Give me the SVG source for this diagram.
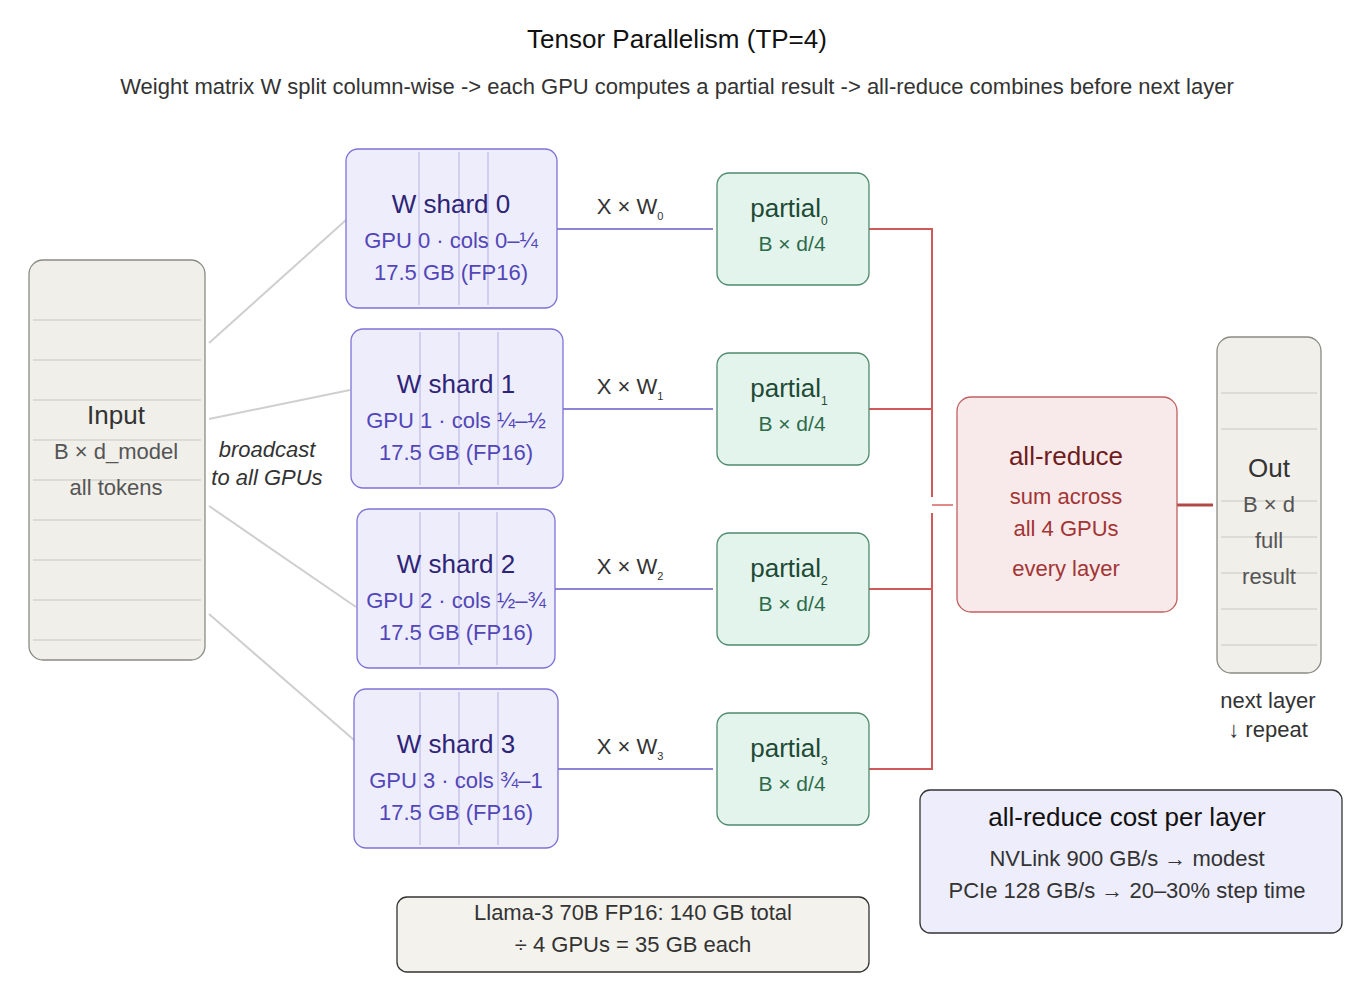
<svg xmlns="http://www.w3.org/2000/svg" width="1354" height="992" viewBox="0 0 1354 992">
<style>
text{font-family:"Liberation Sans",Arial,sans-serif;text-anchor:middle}
.shard{fill:#ededfb;stroke:#7f72d6;stroke-width:1.3}
.sv{stroke:#c9c3ec;stroke-width:1.5}
.t1{font-size:26px;fill:#2d2477}
.t2{font-size:22px;fill:#5246b8}
.part{fill:#e3f4ec;stroke:#4f8a6e;stroke-width:1.3}
.pt1{font-size:26px;fill:#1f4a35}
.pt2{font-size:21px;fill:#2d6b4b}
.mem{fill:#f0efea;stroke:#8b8b85;stroke-width:1.3}
.ml{stroke:#d6d5cf;stroke-width:1.5}
.gray{stroke:#cfcfcf;stroke-width:2;fill:none}
.blue{stroke:#8c84d4;stroke-width:2;fill:none}
.red{stroke:#d05a5a;stroke-width:2;fill:none}
.lbl{font-size:22px;fill:#333}
</style>
<text x="677" y="48" font-size="26" fill="#111">Tensor Parallelism (TP=4)</text>
<text x="677" y="94" font-size="22" fill="#333">Weight matrix W split column-wise -&gt; each GPU computes a partial result -&gt; all-reduce combines before next layer</text>
<g id="connectors">
<line class="gray" x1="209" y1="343" x2="346" y2="220"/>
<line class="gray" x1="209" y1="419" x2="350" y2="390"/>
<line class="gray" x1="209" y1="506" x2="356" y2="607"/>
<line class="gray" x1="209" y1="614" x2="354" y2="740"/>
<text x="267" y="457" class="lbl" font-style="italic">broadcast</text>
<text x="267" y="485" class="lbl" font-style="italic">to all GPUs</text>
<line class="blue" x1="557" y1="229" x2="713" y2="229"/>
<line class="blue" x1="563" y1="409" x2="713" y2="409"/>
<line class="blue" x1="555" y1="589" x2="713" y2="589"/>
<line class="blue" x1="558" y1="769" x2="713" y2="769"/>
<text x="630" y="214" class="lbl">X × W<tspan font-size="11" dy="6">0</tspan></text>
<text x="630" y="394" class="lbl">X × W<tspan font-size="11" dy="6">1</tspan></text>
<text x="630" y="574" class="lbl">X × W<tspan font-size="11" dy="6">2</tspan></text>
<text x="630" y="754" class="lbl">X × W<tspan font-size="11" dy="6">3</tspan></text>
<path class="red" d="M869 229H932V497M932 513V769H869M869 409H932M869 589H932"/>
<line x1="932" y1="505" x2="953" y2="505" stroke="#e08a8a" stroke-width="2"/>
<line x1="1177" y1="505" x2="1213" y2="505" stroke="#b04848" stroke-width="3"/>
</g>
<g id="input">
<rect class="mem" x="29" y="260" width="176" height="400" rx="14"/>
<path class="ml" d="M33 320H201M33 360H201M33 400H201M33 440H201M33 480H201M33 520H201M33 560H201M33 600H201M33 640H201"/>
<text x="116" y="424" font-size="26" fill="#333">Input</text>
<text x="116" y="459" font-size="22" fill="#555">B × d_model</text>
<text x="116" y="495" font-size="22" fill="#555">all tokens</text>
</g>
<g id="shard0">
<rect class="shard" x="346" y="149" width="211" height="159" rx="12"/>
<path class="sv" d="M419 152V305M459 152V305M488 152V305"/>
<text x="451" y="213" class="t1">W shard 0</text>
<text x="451" y="248" class="t2">GPU 0 · cols 0–¼</text>
<text x="451" y="280" class="t2">17.5 GB (FP16)</text>
</g>
<g id="shard1">
<rect class="shard" x="351" y="329" width="212" height="159" rx="12"/>
<path class="sv" d="M420 332V485M459 332V485M498 332V485"/>
<text x="456" y="393" class="t1">W shard 1</text>
<text x="456" y="428" class="t2">GPU 1 · cols ¼–½</text>
<text x="456" y="460" class="t2">17.5 GB (FP16)</text>
</g>
<g id="shard2">
<rect class="shard" x="357" y="509" width="198" height="159" rx="12"/>
<path class="sv" d="M420 512V665M459 512V665M497 512V665"/>
<text x="456" y="573" class="t1">W shard 2</text>
<text x="456" y="608" class="t2">GPU 2 · cols ½–¾</text>
<text x="456" y="640" class="t2">17.5 GB (FP16)</text>
</g>
<g id="shard3">
<rect class="shard" x="354" y="689" width="204" height="159" rx="12"/>
<path class="sv" d="M420 692V845M459 692V845M498 692V845"/>
<text x="456" y="753" class="t1">W shard 3</text>
<text x="456" y="788" class="t2">GPU 3 · cols ¾–1</text>
<text x="456" y="820" class="t2">17.5 GB (FP16)</text>
</g>
<g id="partial0">
<rect class="part" x="717" y="173" width="152" height="112" rx="12"/>
<text x="789" y="217" class="pt1">partial<tspan font-size="12" dy="8">0</tspan></text>
<text x="792" y="251" class="pt2">B × d/4</text>
</g>
<g id="partial1">
<rect class="part" x="717" y="353" width="152" height="112" rx="12"/>
<text x="789" y="397" class="pt1">partial<tspan font-size="12" dy="8">1</tspan></text>
<text x="792" y="431" class="pt2">B × d/4</text>
</g>
<g id="partial2">
<rect class="part" x="717" y="533" width="152" height="112" rx="12"/>
<text x="789" y="577" class="pt1">partial<tspan font-size="12" dy="8">2</tspan></text>
<text x="792" y="611" class="pt2">B × d/4</text>
</g>
<g id="partial3">
<rect class="part" x="717" y="713" width="152" height="112" rx="12"/>
<text x="789" y="757" class="pt1">partial<tspan font-size="12" dy="8">3</tspan></text>
<text x="792" y="791" class="pt2">B × d/4</text>
</g>
<g id="allreduce">
<rect x="957" y="397" width="220" height="215" rx="14" fill="#f8eaea" stroke="#c06060" stroke-width="1.3"/>
<text x="1066" y="465" font-size="26" fill="#6e1c1c">all-reduce</text>
<text x="1066" y="504" font-size="22" fill="#a33535">sum across</text>
<text x="1066" y="536" font-size="22" fill="#a33535">all 4 GPUs</text>
<text x="1066" y="576" font-size="22" fill="#a33535">every layer</text>
</g>
<g id="out">
<rect class="mem" x="1217" y="337" width="104" height="336" rx="14"/>
<path class="ml" d="M1221 393H1317M1221 429H1317M1221 501H1317M1221 537H1317M1221 573H1317M1221 609H1317M1221 645H1317"/>
<text x="1269" y="477" font-size="26" fill="#333">Out</text>
<text x="1269" y="512" font-size="22" fill="#555">B × d</text>
<text x="1269" y="548" font-size="22" fill="#555">full</text>
<text x="1269" y="584" font-size="22" fill="#555">result</text>
</g>
<text x="1268" y="708" class="lbl">next layer</text>
<text x="1268" y="737" class="lbl">↓ repeat</text>
<g id="cost">
<rect x="920" y="790" width="422" height="143" rx="10" fill="#ededfb" stroke="#333" stroke-width="1.3"/>
<text x="1127" y="826" font-size="26" fill="#111">all-reduce cost per layer</text>
<text x="1127" y="866" font-size="22" fill="#333">NVLink 900 GB/s → modest</text>
<text x="1127" y="898" font-size="22" fill="#333">PCIe 128 GB/s → 20–30% step time</text>
</g>
<g id="llama">
<rect x="397" y="897" width="472" height="75" rx="10" fill="#f3f2ec" stroke="#333" stroke-width="1.3"/>
<text x="633" y="920" font-size="22" fill="#333">Llama-3 70B FP16: 140 GB total</text>
<text x="633" y="952" font-size="22" fill="#333">÷ 4 GPUs = 35 GB each</text>
</g>
</svg>
